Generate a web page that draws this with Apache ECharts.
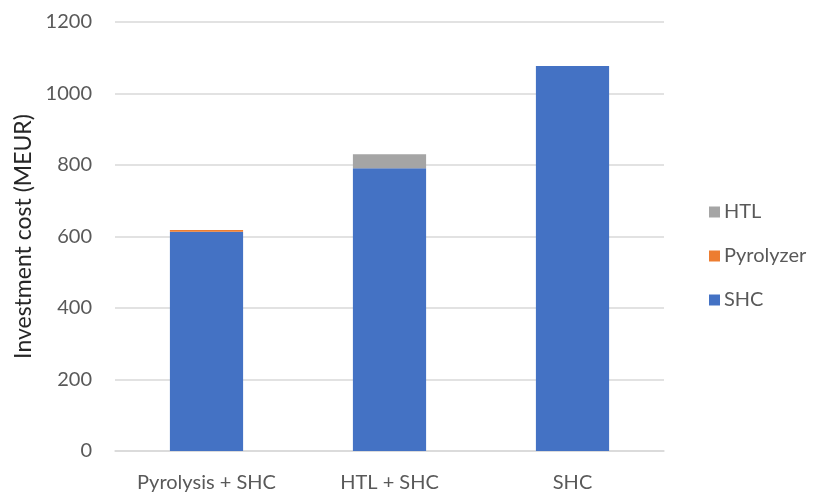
<!DOCTYPE html>
<html>
<head>
<meta charset="utf-8">
<script src="https://cdn.jsdelivr.net/npm/echarts@6/dist/echarts.min.js"></script>
<style>
  html, body { margin: 0; padding: 0; background: #fff; }
  #chart { width: 815px; height: 493px; }
</style>
</head>
<body>
<div id="chart"></div>
<script>
// Investment cost per process route, stacked by unit
const categories = ['Pyrolysis + SHC', 'HTL + SHC', 'SHC'];
const shc = [613, 791, 1077];
const pyrolyzer = [5, 0, 0];
const htl = [0, 39, 0];
const yTicks = [0, 200, 400, 600, 800, 1000, 1200];

const font = 'Lato, "Open Sans", sans-serif';
const textColor = '#595959';

const chart = echarts.init(document.getElementById('chart'));
chart.setOption({
  animation: false,
  grid: { left: 115, right: 151, top: 22, bottom: 41 },
  legend: {
    orient: 'vertical',
    left: 704,
    top: 197,
    itemWidth: 11,
    itemHeight: 11,
    itemGap: 24,
    icon: 'rect',
    data: ['HTL', 'Pyrolyzer', 'SHC'],
    textStyle: { fontFamily: font, fontSize: 20, color: textColor, padding: [0, 0, 0, -1] }
  },
  xAxis: {
    type: 'category',
    data: categories,
    axisTick: { show: false },
    axisLine: { lineStyle: { color: '#D9D9D9', width: 1.5 } },
    axisLabel: { fontFamily: font, fontSize: 20, color: textColor, margin: 22 }
  },
  yAxis: {
    type: 'value',
    min: yTicks[0],
    max: yTicks[yTicks.length - 1],
    interval: 200,
    name: 'Investment cost (MEUR)',
    nameLocation: 'middle',
    nameGap: 79,
    nameTextStyle: { fontFamily: font, fontSize: 23, color: '#262626' },
    axisLine: { show: false },
    axisTick: { show: false },
    splitLine: { lineStyle: { color: '#D9D9D9', width: 1.5 } },
    axisLabel: { fontFamily: font, fontSize: 20, color: textColor, margin: 23,
      formatter: v => String(v) }
  },
  series: [
    { name: 'SHC', type: 'bar', stack: 'cost', data: shc, barWidth: '40%',
      itemStyle: { color: '#4472C4' } },
    { name: 'Pyrolyzer', type: 'bar', stack: 'cost', data: pyrolyzer,
      itemStyle: { color: '#ED7D31' } },
    { name: 'HTL', type: 'bar', stack: 'cost', data: htl,
      itemStyle: { color: '#A5A5A5' } }
  ]
});
</script>
</body>
</html>
